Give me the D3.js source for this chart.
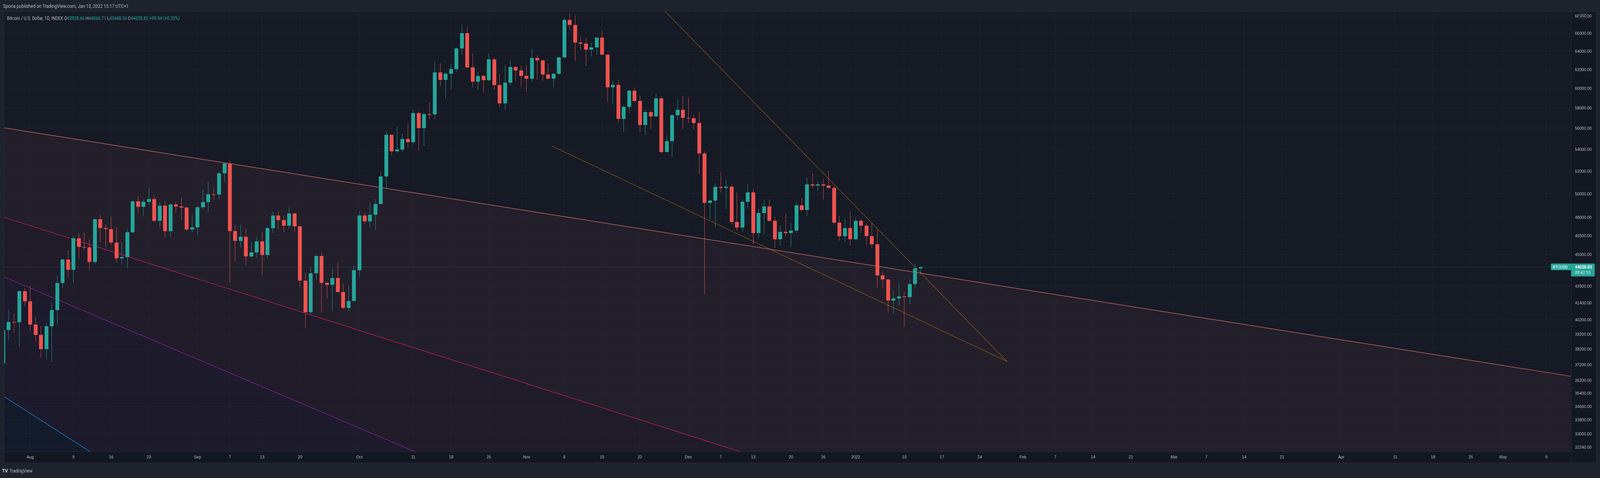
<!DOCTYPE html>
<html><head><meta charset="utf-8">
<script src="https://cdn.jsdelivr.net/npm/d3@7"></script>
<style>html,body{margin:0;padding:0;overflow:hidden;background:#1e222d;width:100%;height:100%;}svg{display:block;font-family:Roboto,"DejaVu Sans",sans-serif;width:100vw;height:100vh;}</style>
</head><body><svg id="c" viewBox="0 0 4591 1223" preserveAspectRatio="none"></svg>
<script>
const startDate = "2021-07-26";
const opens = [35400,37270,39480,40040,40020,42230,41490,39860,39150,38200,39740,40870,42830,44610,43820,46280,45590,45560,44420,47830,47110,47020,45940,44700,44800,46760,49340,48870,49290,49530,47700,48970,46850,49070,48900,48810,46990,47160,48830,49270,49940,49920,51790,52680,46860,46070,46400,44850,45160,46030,44960,47090,48140,47760,47300,48310,47250,43010,40720,43560,44880,42840,42700,43200,42170,41030,41520,43790,48140,47660,48200,49110,51510,55360,53800,53960,54960,54660,57480,56000,57370,57350,61670,60880,61530,62030,64280,66000,62210,60690,61300,60850,63080,60330,58450,60590,62250,61880,61300,61000,63230,62970,61450,61010,61530,63300,67540,66950,64940,64820,64150,64400,65500,63600,60100,60350,56900,58100,59750,58700,56300,57570,57150,58960,53730,54750,57270,57810,57000,56960,56500,53600,49200,49400,50580,50500,50600,47600,47150,49300,50100,46700,48350,48900,47700,46200,46800,46700,46900,49000,48600,50800,50700,50800,50700,50500,47550,46450,47100,46200,47700,47300,46450,45800,43400,43100,41550,41700,41850,41800,42750,43928.66];
const highs = [40550,39530,40900,40630,42300,42440,42600,40420,39780,39980,41400,43390,44700,45310,46460,46700,46740,46200,47880,48170,47390,48050,47140,46000,47050,49380,49780,49520,50500,49880,49260,49370,49170,49300,49630,48900,48220,48960,50370,51040,50540,51890,52780,52920,47330,47370,47030,45990,46420,46810,47240,48470,48450,48150,48810,48370,47320,43590,44000,44960,45150,42960,43920,44340,42780,42630,44110,48490,48360,49230,49500,51890,55750,55340,56110,55480,56500,57840,57650,57560,58530,62880,62660,61690,62620,64440,67000,66650,63730,61730,61440,63710,63290,61500,62500,62960,62350,62420,62440,64250,63500,63050,62600,61580,63300,67800,68300,68100,65600,65400,64900,65500,66300,63600,60800,60900,58300,59850,60050,59250,57800,57750,59400,59150,55300,57400,58850,59200,59100,57350,57600,53800,49500,50900,51900,51200,50800,50100,49500,50800,50400,48700,49500,49500,48000,47300,48300,47500,49300,49600,51400,51800,51100,51300,52000,50700,48100,47900,48500,47900,47900,47500,47500,47000,43700,43100,42300,42800,42200,43100,44300,44066.71];
const lows = [35210,36420,38800,39300,38340,41150,39420,38700,37640,37550,37360,39850,42450,43260,42840,44690,45360,43800,44260,45960,45580,45750,44420,44240,43950,46660,48320,48130,49030,47600,47150,46370,46400,48380,47800,46900,46730,46550,48650,48420,49470,49510,50960,42830,44470,45540,44190,44730,44740,43430,44720,46710,47030,46760,47080,46850,42500,39600,40570,43100,40680,41700,40800,42130,40930,40790,41440,43290,47450,47140,46940,49050,50400,53400,53650,53700,54130,54440,53860,54300,56880,56850,60190,58960,59900,61700,63550,62100,60110,59850,59570,60700,59870,58080,57850,60250,60770,60100,59620,60660,60900,60750,60800,60100,61400,63130,66350,62900,64120,62350,63400,63600,63500,58600,58400,56500,55650,57400,58500,55650,55350,55900,57050,53600,53650,53300,56750,55900,56500,55900,51700,42000,47800,47200,50100,48700,47400,46900,46800,48700,45800,46300,46600,47600,45500,45700,46400,45600,46700,48500,48100,50500,50300,49500,50400,47400,46100,46000,45700,46100,46700,45700,45500,42500,42500,40700,40600,41200,39700,41300,42500,43448.34];
const closes = [37270,39480,40040,40020,42230,41490,39860,39150,38200,39740,40870,42830,44610,43820,46280,45590,45560,44420,47830,47110,47020,45940,44700,44800,46760,49340,48870,49290,49530,47700,48970,46850,49070,48900,48810,46990,47160,48830,49270,49940,49920,51790,52680,46860,46070,46400,44850,45160,46030,44960,47090,48140,47760,47300,48310,47250,43010,40720,43560,44880,42840,42700,43200,42170,41030,41520,43790,48140,47660,48200,49110,51510,55360,53800,53960,54960,54660,57480,56000,57370,57350,61670,60880,61530,62030,64280,66000,62210,60690,61300,60850,63080,60330,58450,60590,62250,61880,61300,61000,63230,62970,61450,61010,61530,63300,67540,66950,64940,64820,64150,64400,65500,63600,60100,60350,56900,58100,59750,58700,56300,57570,57150,58960,53730,54750,57270,57810,57000,56960,56500,53600,49200,49400,50580,50500,50600,47600,47150,49300,50100,46700,48350,48900,47700,46200,46800,46700,46900,49000,48600,50800,50700,50800,50700,50500,47550,46450,47100,46200,47700,47300,46450,45800,43400,43100,41550,41700,41850,41800,42750,43930,44028.82];
const priceTicks = [68000,66000,64000,62000,60000,58000,56000,54000,52000,50000,48000,46500,45000,42600,41400,40200,39200,38200,37200,36200,35400,34600,33800,33000,32240];
const timeTickDates = ["2021-08-01","2021-08-09","2021-08-16","2021-08-23","2021-09-01","2021-09-07","2021-09-13","2021-09-20","2021-10-01","2021-10-11","2021-10-18","2021-10-25","2021-11-01","2021-11-08","2021-11-15","2021-11-22","2021-12-01","2021-12-07","2021-12-13","2021-12-20","2021-12-26","2022-01-01","2022-01-10","2022-01-17","2022-01-24","2022-02-01","2022-02-07","2022-02-14","2022-02-21","2022-03-01","2022-03-07","2022-03-14","2022-03-21","2022-04-01","2022-04-11","2022-04-18","2022-04-25","2022-05-01","2022-05-09"];
const timeTickLabels = ["Aug","9","16","23","Sep","7","13","20","Oct","11","18","25","Nov","8","15","22","Dec","7","13","20","26","2022","10","17","24","Feb","7","14","21","Mar","7","14","21","Apr","11","18","25","May","9"];
const channelLines = [
 {name:"orange", pts:[["2021-07-27T05:00",56030],["2022-05-14T16:00",36390]]},
 {name:"pink",   pts:[["2021-07-27T05:00",47990],["2021-12-10T12:00",32000]]},
 {name:"purple", pts:[["2021-07-27T05:00",43280],["2021-10-11T06:00",32000]]},
 {name:"blue",   pts:[["2021-07-27T05:00",35180],["2021-08-12T02:00",32000]]}
];
const dottedLines = [
 [["2021-11-26T19:00",68500],["2022-01-29T02:00",37390]],
 [["2021-11-05T19:00",54280],["2022-01-29T02:00",37390]]
];
const lastPrice = 44028.82;

const W=4591,H=1223, L=12, R=4508, T=30, B=1155;
const svg=d3.select("#c");
const pd=d3.utcParse("%Y-%m-%d"), pdt=d3.utcParse("%Y-%m-%dT%H:%M");
const day0=pd("2021-08-01");
const x=d3.scaleUtc().domain([d3.utcHour.offset(day0,-4.78*24), d3.utcHour.offset(day0,285.66*24)]).range([L,R]);
const y=d3.scaleLog().domain([32001,68500]).range([B,T]);

svg.append("rect").attr("width",W).attr("height",H).attr("fill","#1e222d");
svg.append("rect").attr("x",L).attr("y",T).attr("width",R-L).attr("height",B-T).attr("fill","#161a25");
svg.append("rect").attr("x",R).attr("y",T).attr("width",4580-R).attr("height",1184-T).attr("fill","#131722");
svg.append("rect").attr("x",L).attr("y",B).attr("width",R-L).attr("height",1184-B).attr("fill","#131722");
svg.append("defs").append("clipPath").attr("id","clip").append("rect").attr("x",L).attr("y",T).attr("width",R-L).attr("height",B-T);
const g=svg.append("g").attr("clip-path","url(#clip)");

const lineFn=(pts)=>{const [a,b]=pts.map(p=>[x(pdt(p[0])),y(p[1])]);return X=>a[1]+(b[1]-a[1])*(X-a[0])/(b[0]-a[0]);};
const fills={orange:"#221f2a",pink:"#201b29",purple:"#1c1a2b",blue:"#131b2a"};
const strokes={orange:"#e57373",pink:"#e91e63",purple:"#9c27b0",blue:"#2196f3"};
channelLines.forEach(c=>{const f=lineFn(c.pts);
 g.append("path").attr("d",d3.area().x(d=>d).y0(B+50).y1(d=>f(d))([L,R])).attr("fill",fills[c.name]);});
const gridC="#232733";
priceTicks.forEach(p=>g.append("line").attr("x1",L).attr("x2",R).attr("y1",y(p)).attr("y2",y(p)).attr("stroke",gridC));
timeTickDates.forEach(d=>g.append("line").attr("y1",T).attr("y2",B).attr("x1",x(pd(d))).attr("x2",x(pd(d))).attr("stroke",gridC));
channelLines.forEach(c=>{const f=lineFn(c.pts);
 g.append("line").attr("x1",L).attr("x2",R).attr("y1",f(L)).attr("y2",f(R)).attr("stroke",strokes[c.name]).attr("stroke-width",1.2);});
dottedLines.forEach(pts=>g.append("line").attr("x1",x(pdt(pts[0][0]))).attr("y1",y(pts[0][1])).attr("x2",x(pdt(pts[1][0]))).attr("y2",y(pts[1][1])).attr("stroke","#ff9800").attr("stroke-width",1.8).attr("stroke-dasharray","1.5,2.5"));
g.append("line").attr("x1",L).attr("x2",R).attr("y1",y(lastPrice)).attr("y2",y(lastPrice)).attr("stroke","#26a69a").attr("stroke-dasharray","1,3");

const s0=pd(startDate);
const candles=opens.map((o,i)=>({d:d3.utcDay.offset(s0,i),o,h:highs[i],l:lows[i],c:closes[i]}));
const cw=11;
const cg=g.selectAll("g.cd").data(candles).join("g");
cg.append("line").attr("x1",d=>Math.round(x(d.d))+0.5).attr("x2",d=>Math.round(x(d.d))+0.5).attr("y1",d=>y(d.h)).attr("y2",d=>y(d.l)).attr("stroke",d=>d.c>=d.o?"#26a69a":"#ef5350");
cg.append("rect").attr("x",d=>Math.round(x(d.d))-5).attr("width",cw).attr("y",d=>y(Math.max(d.o,d.c))).attr("height",d=>Math.max(1.5,Math.abs(y(d.o)-y(d.c)))).attr("fill",d=>d.c>=d.o?"#26a69a":"#ef5350");

svg.append("line").attr("x1",R+0.5).attr("x2",R+0.5).attr("y1",T).attr("y2",1184).attr("stroke","#2a2e39");
svg.append("line").attr("x1",L).attr("x2",4580).attr("y1",B+0.5).attr("y2",B+0.5).attr("stroke","#2a2e39");
svg.append("rect").attr("x",L-0.5).attr("y",T-0.5).attr("width",4580-L+1).attr("height",1184-T+1).attr("fill","none").attr("stroke","#2a2e39");

const yAx=svg.append("g").attr("transform",`translate(${R},0)`).call(d3.axisRight(y).tickValues(priceTicks).tickSize(0).tickPadding(11).tickFormat(d3.format(".2f")));
yAx.select(".domain").remove();
yAx.selectAll("text").attr("fill","#b2b5be").attr("font-size",11.5);
const xAx=svg.append("g").attr("transform",`translate(0,${B})`).call(d3.axisBottom(x).tickValues(timeTickDates.map(pd)).tickSize(0).tickPadding(10).tickFormat((d,i)=>timeTickLabels[i]));
xAx.select(".domain").remove();
xAx.selectAll("text").attr("fill","#b2b5be").attr("font-size",11.5);

svg.append("rect").attr("x",4530).attr("y",33).attr("width",24).attr("height",15).attr("rx",3).attr("fill","#131722").attr("stroke","#434651");
svg.append("text").attr("x",4542).attr("y",44.5).attr("text-anchor","middle").attr("fill","#b2b5be").attr("font-size",10.5).text("USD");

const ly=y(lastPrice);
svg.append("rect").attr("x",4450).attr("y",ly-9).attr("width",58).attr("height",17).attr("rx",2).attr("fill","#26a69a");
svg.append("text").attr("x",4455).attr("y",ly+4).attr("fill","#fff").attr("font-size",11.5).text("BTCUSD");
svg.append("rect").attr("x",R).attr("y",ly-9).attr("width",68).attr("height",33).attr("rx",2).attr("fill","#26a69a");
svg.append("text").attr("x",R+11).attr("y",ly+4).attr("fill","#fff").attr("font-size",11.5).attr("font-weight","bold").text(d3.format(".2f")(lastPrice));
svg.append("text").attr("x",R+11).attr("y",ly+18).attr("fill","#e0f2f1").attr("font-size",11.5).text("09:42:10");

svg.append("text").attr("x",9).attr("y",20).attr("fill","#b2b5be").attr("font-size",12.5).text("Sporia published on TradingView.com, Jan 13, 2022 15:17 UTC+1");
const lg=svg.append("text").attr("x",20).attr("y",51).attr("font-size",12).attr("fill","#b2b5be");
lg.append("tspan").text("Bitcoin / U.S. Dollar, 1D, INDEX  O");
lg.append("tspan").attr("fill","#26a69a").text("43928.66");
lg.append("tspan").text("  H");
lg.append("tspan").attr("fill","#26a69a").text("44066.71");
lg.append("tspan").text("  L");
lg.append("tspan").attr("fill","#26a69a").text("43448.34");
lg.append("tspan").text("  C");
lg.append("tspan").attr("fill","#26a69a").text("44028.82");
lg.append("tspan").attr("fill","#26a69a").text("  +99.94 (+0.23%)");
svg.append("text").attr("x",6).attr("y",1209).attr("fill","#d1d4dc").attr("font-size",13).attr("font-weight","bold").text("TV");
svg.append("text").attr("x",27).attr("y",1209).attr("fill","#b2b5be").attr("font-size",12).text("TradingView");
</script></body></html>
